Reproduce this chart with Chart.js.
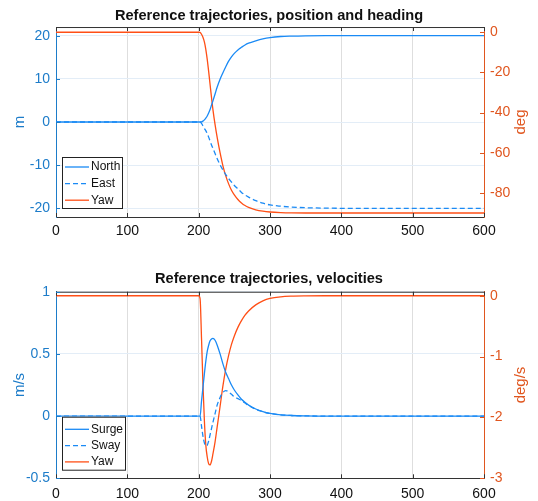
<!DOCTYPE html>
<html>
<head>
<meta charset="utf-8">
<script src="https://cdn.jsdelivr.net/npm/chart.js@4/dist/chart.umd.min.js"></script>
<style>
  html, body { margin: 0; padding: 0; background: #fff; }
  .wrap { position: absolute; left: 0; width: 538px; }
</style>
</head>
<body>
<div class="wrap" style="top:0;height:250px"><canvas id="posChart" width="538" height="250"></canvas></div>
<div class="wrap" style="top:250px;height:251px"><canvas id="velChart" width="538" height="251"></canvas></div>
<script>
// time axis
const xTicks = [0, 100, 200, 300, 400, 500, 600];

// position and heading
const tPos  = [0, 200, 202, 204, 206, 208, 210, 212, 214, 216, 218, 220, 223, 226, 230, 234, 238, 242, 246, 250, 255, 260, 265, 270, 280, 290, 300, 315, 330, 350, 380, 420, 600];
const north = [0, 0, 0, 0.05, 0.2, 0.5, 0.9, 1.4, 2.1, 2.9, 3.9, 4.9, 6.5, 8.1, 9.9, 11.4, 12.8, 14.1, 15.1, 15.9, 16.7, 17.3, 17.85, 18.25, 18.8, 19.25, 19.55, 19.8, 19.9, 19.97, 20, 20, 20];
const east  = [0, 0, 0, -0.3, -0.9, -1.5, -2.0, -2.7, -3.5, -4.4, -5.3, -6.1, -7.3, -8.5, -9.9, -11.1, -12.2, -13.1, -13.9, -14.7, -15.5, -16.3, -16.9, -17.4, -18.2, -18.8, -19.2, -19.5, -19.7, -19.85, -19.95, -20, -20];
const yawDeg = [0, 0, -0.1, -1, -2.5, -4.8, -8.5, -13.5, -19.5, -26, -32.5, -38.5, -46, -52.5, -60, -66.5, -71.5, -75.5, -78.7, -81, -83.3, -85, -86.3, -87.2, -88.4, -89.1, -89.5, -89.8, -89.95, -90, -90, -90, -90];
const posTicksLeft  = [-20, -10, 0, 10, 20];
const posTicksRight = [-80, -60, -40, -20, 0];

// velocities
const tVel    = [0, 200, 202, 204, 206, 208, 210, 212, 214, 216, 218, 220, 223, 226, 230, 234, 238, 242, 246, 250, 255, 260, 265, 270, 280, 290, 300, 315, 330, 350, 380, 600];
const surge   = [0, 0, 0, 0.12, 0.23, 0.34, 0.44, 0.52, 0.57, 0.605, 0.62, 0.625, 0.61, 0.57, 0.5, 0.42, 0.35, 0.3, 0.25, 0.21, 0.17, 0.135, 0.11, 0.088, 0.057, 0.036, 0.022, 0.01, 0.005, 0.002, 0, 0];
const sway    = [0, 0, 0, -0.08, -0.16, -0.215, -0.24, -0.235, -0.2, -0.15, -0.1, -0.05, 0.02, 0.09, 0.15, 0.19, 0.205, 0.195, 0.175, 0.155, 0.14, 0.125, 0.105, 0.085, 0.055, 0.035, 0.021, 0.01, 0.005, 0.002, 0, 0];
const yawRate = [0, 0, -0.05, -0.7, -1.45, -2.05, -2.45, -2.65, -2.76, -2.78, -2.72, -2.6, -2.4, -2.15, -1.82, -1.48, -1.2, -0.98, -0.8, -0.66, -0.52, -0.41, -0.32, -0.25, -0.15, -0.085, -0.045, -0.018, -0.007, -0.002, 0, 0];
const velTicksLeft  = [-0.5, 0, 0.5, 1];
const velTicksRight = [-3, -2, -1, 0];

const BLUE = '#1a8af5';
const ORANGE = '#ff4f16';
const BLUE_AX = '#1d7cc9';
const ORANGE_AX = '#e0561f';
const FONT = "'Liberation Sans', Arial, sans-serif";

function pts(t, v) {
  return t.map((x, i) => ({ x: x, y: v[i] }));
}

function fixTicks(arr) {
  return function (scale) {
    scale.ticks = arr.map(v => ({ value: v }));
  };
}

const plainLabel = v => String(v);

// matlab-ish frame: inward ticks, top border, rotated axis titles, boxed legend
const framePlugin = {
  id: 'frame',
  afterDraw(chart, args, opts) {
    const ctx = chart.ctx;
    const a = chart.chartArea;
    const sx = chart.scales.x, sy = chart.scales.y, sy2 = chart.scales.y2;
    ctx.save();
    ctx.lineWidth = 1;
    // top border
    ctx.strokeStyle = '#333';
    ctx.beginPath();
    ctx.moveTo(a.left, a.top + 0.5);
    ctx.lineTo(a.right, a.top + 0.5);
    ctx.stroke();
    // x ticks, bottom and top
    sx.ticks.forEach(t => {
      const px = Math.round(sx.getPixelForValue(t.value)) + 0.5;
      ctx.beginPath();
      ctx.moveTo(px, a.bottom); ctx.lineTo(px, a.bottom - 4);
      ctx.moveTo(px, a.top); ctx.lineTo(px, a.top + 4);
      ctx.stroke();
    });
    ctx.strokeStyle = BLUE_AX;
    sy.ticks.forEach(t => {
      const py = Math.round(sy.getPixelForValue(t.value)) + 0.5;
      ctx.beginPath(); ctx.moveTo(a.left, py); ctx.lineTo(a.left + 4, py); ctx.stroke();
    });
    ctx.strokeStyle = ORANGE_AX;
    sy2.ticks.forEach(t => {
      const py = Math.round(sy2.getPixelForValue(t.value)) + 0.5;
      ctx.beginPath(); ctx.moveTo(a.right, py); ctx.lineTo(a.right - 4, py); ctx.stroke();
    });

    // axis titles, both reading upward
    const midY = (a.top + a.bottom) / 2;
    ctx.font = '15px ' + FONT;
    ctx.textAlign = 'center';
    ctx.textBaseline = 'middle';
    [[opts.leftTitle, 20, BLUE_AX], [opts.rightTitle, 521, ORANGE_AX]].forEach(([txt, x, col]) => {
      ctx.save();
      ctx.translate(x, midY);
      ctx.rotate(-Math.PI / 2);
      ctx.fillStyle = col;
      ctx.fillText(txt, 0, 0);
      ctx.restore();
    });

    // legend box
    const L = opts.legend;
    ctx.fillStyle = '#fff';
    ctx.fillRect(L.x, L.y, L.w, L.h);
    ctx.strokeStyle = '#222';
    ctx.strokeRect(L.x + 0.5, L.y + 0.5, L.w, L.h);
    ctx.font = '12px ' + FONT;
    ctx.textAlign = 'left';
    chart.data.datasets.forEach((ds, i) => {
      const y = L.y + L.first + i * L.step;
      ctx.strokeStyle = ds.borderColor;
      ctx.lineWidth = 1.3;
      ctx.setLineDash(ds.borderDash || []);
      ctx.beginPath();
      ctx.moveTo(L.x + 3, y); ctx.lineTo(L.x + 27, y);
      ctx.stroke();
      ctx.setLineDash([]);
      ctx.fillStyle = '#111';
      ctx.fillText(ds.label, L.x + 29, y);
    });
    ctx.restore();
  }
};

function makeChart(id, cfg) {
  const xHeight = cfg.xHeight;
  return new Chart(document.getElementById(id), {
    type: 'line',
    data: {
      datasets: [
        { label: cfg.names[0], data: pts(cfg.t, cfg.s1), yAxisID: 'y', borderColor: BLUE, borderWidth: 1.3 },
        { label: cfg.names[1], data: pts(cfg.t, cfg.s2), yAxisID: 'y', borderColor: BLUE, borderWidth: 1.3, borderDash: [5, 3] },
        { label: cfg.names[2], data: pts(cfg.t, cfg.s3), yAxisID: 'y2', borderColor: ORANGE, borderWidth: 1.3 }
      ]
    },
    options: {
      responsive: false,
      animation: false,
      events: [],
      layout: { padding: { left: 0, right: 0, top: 0, bottom: 0 } },
      elements: { point: { radius: 0 }, line: { cubicInterpolationMode: 'monotone', fill: false } },
      scales: {
        x: {
          type: 'linear', min: 0, max: 600,
          afterBuildTicks: fixTicks(xTicks),
          afterFit: s => { s.height = xHeight; },
          grid: { color: '#dedede', drawTicks: false },
          border: { color: '#333' },
          ticks: { color: '#111', font: { size: 14, family: FONT }, padding: cfg.xPad, callback: plainLabel }
        },
        y: {
          position: 'left', min: cfg.leftRange[0], max: cfg.leftRange[1],
          afterBuildTicks: fixTicks(cfg.leftTicks),
          afterFit: s => { s.width = 56; },
          grid: { color: '#e3edf7', drawTicks: false },
          border: { color: BLUE_AX },
          ticks: { color: BLUE_AX, font: { size: 14, family: FONT }, padding: 6, callback: plainLabel }
        },
        y2: {
          position: 'right', min: cfg.rightRange[0], max: cfg.rightRange[1],
          afterBuildTicks: fixTicks(cfg.rightTicks),
          afterFit: s => { s.width = 54; },
          grid: { display: false, drawTicks: false },
          border: { color: ORANGE_AX },
          ticks: { color: ORANGE_AX, font: { size: 14, family: FONT }, padding: 6, callback: plainLabel }
        }
      },
      plugins: {
        legend: { display: false },
        tooltip: { enabled: false },
        title: {
          display: true, text: cfg.title, color: '#111',
          font: { size: 14.6, weight: 'bold', family: FONT },
          padding: cfg.titlePad
        },
        frame: { leftTitle: cfg.leftTitle, rightTitle: cfg.rightTitle, legend: cfg.legend }
      }
    },
    plugins: [framePlugin]
  });
}

makeChart('posChart', {
  t: tPos, s1: north, s2: east, s3: yawDeg,
  names: ['North', 'East', 'Yaw'],
  title: 'Reference trajectories, position and heading',
  titlePad: { top: 7, bottom: 2.5 },
  leftRange: [-22, 22], rightRange: [-92, 2.6],
  leftTicks: posTicksLeft, rightTicks: posTicksRight,
  leftTitle: 'm', rightTitle: 'deg',
  xHeight: 33, xPad: 6,
  legend: { x: 62, y: 157, w: 60, h: 51, first: 10, step: 16.6 }
});

makeChart('velChart', {
  t: tVel, s1: surge, s2: sway, s3: yawRate,
  names: ['Surge', 'Sway', 'Yaw'],
  title: 'Reference trajectories, velocities',
  titlePad: { top: 20.5, bottom: 3.7 },
  leftRange: [-0.5, 1], rightRange: [-3, 0.066],
  leftTicks: velTicksLeft, rightTicks: velTicksRight,
  leftTitle: 'm/s', rightTitle: 'deg/s',
  xHeight: 22.7, xPad: 7.5,
  legend: { x: 62, y: 166.7, w: 63, h: 53, first: 12.6, step: 16.3 }
});
</script>
</body>
</html>
